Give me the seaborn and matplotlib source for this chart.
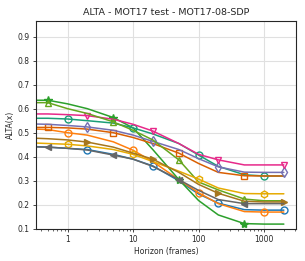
import numpy as np
import seaborn as sns
import matplotlib.pyplot as plt
from matplotlib.ticker import FixedLocator, FuncFormatter

# horizons (frames); first value is where the curves meet the left axis edge
horizons = [0.33, 0.5, 1, 2, 5, 10, 20, 50, 100, 200, 500, 1000, 2000]

# ALTA values, one list per tracker curve
alta_blue = [0.442, 0.44, 0.435, 0.43, 0.41, 0.39, 0.362, 0.30, 0.245, 0.207, 0.18, 0.178, 0.178]
alta_orange = [0.515, 0.513, 0.50, 0.49, 0.462, 0.427, 0.38, 0.305, 0.25, 0.205, 0.172, 0.17, 0.17]
alta_green = [0.635, 0.635, 0.62, 0.60, 0.563, 0.52, 0.43, 0.305, 0.218, 0.158, 0.122, 0.12, 0.12]
alta_teal = [0.56, 0.56, 0.557, 0.55, 0.54, 0.52, 0.495, 0.455, 0.407, 0.36, 0.325, 0.32, 0.32]
alta_orangered = [0.522, 0.522, 0.52, 0.515, 0.50, 0.48, 0.455, 0.415, 0.372, 0.335, 0.321, 0.32, 0.32]
alta_purple = [0.536, 0.535, 0.53, 0.524, 0.51, 0.49, 0.464, 0.43, 0.392, 0.358, 0.336, 0.335, 0.335]
alta_pink = [0.578, 0.578, 0.575, 0.571, 0.556, 0.535, 0.507, 0.455, 0.41, 0.387, 0.366, 0.366, 0.366]
alta_lightgreen = [0.625, 0.625, 0.60, 0.58, 0.545, 0.51, 0.47, 0.387, 0.295, 0.262, 0.224, 0.217, 0.217]
alta_gold = [0.457, 0.455, 0.452, 0.445, 0.43, 0.41, 0.38, 0.34, 0.307, 0.27, 0.247, 0.246, 0.246]
alta_brown = [0.477, 0.475, 0.47, 0.461, 0.44, 0.415, 0.39, 0.335, 0.285, 0.248, 0.215, 0.212, 0.212]
alta_gray = [0.441, 0.44, 0.435, 0.428, 0.407, 0.39, 0.36, 0.305, 0.26, 0.222, 0.205, 0.205, 0.205]

series = [
    (alta_blue, "#1f77b4", "o", 3),
    (alta_orange, "#ff7f0e", "o", 2),
    (alta_green, "#2ca02c", "*", 1),
    (alta_teal, "#1b9e77", "o", 2),
    (alta_orangered, "#d95f02", "s", 1),
    (alta_purple, "#7570b3", "d", 3),
    (alta_pink, "#e7298a", "v", 3),
    (alta_lightgreen, "#66a61e", "^", 1),
    (alta_gold, "#e6ab02", "h", 2),
    (alta_brown, "#a6761d", ">", 3),
    (alta_gray, "#666666", "<", 1),
]

sns.set_style("whitegrid", {"axes.edgecolor": "0.15", "grid.color": "0.88",
                            "xtick.bottom": True, "ytick.left": True})
plt.rcParams['font.family'] = ['DejaVu Sans']

fig = plt.figure(figsize=(3.05, 2.61), dpi=100)
ax = fig.add_axes([0.118, 0.123, 0.852, 0.797])

for vals, col, mk, start in series:
    filled = mk in ("*", "<", ">")
    sns.lineplot(x=horizons, y=vals, color=col, marker=mk, markevery=slice(start, None, 3),
                 markersize=5 if mk != "*" else 6, markeredgewidth=1.0,
                 markerfacecolor=col if filled else "none", markeredgecolor=col,
                 linewidth=1.1, ax=ax)

ax.set_xscale("log")
ax.set_xlim(0.33, 3050)
ax.set_ylim(0.1, 0.965)
ax.xaxis.set_major_locator(FixedLocator([1, 10, 100, 1000]))
ax.xaxis.set_major_formatter(FuncFormatter(lambda v, p: f"{v:g}"))
ax.set_yticks([0.1, 0.2, 0.3, 0.4, 0.5, 0.6, 0.7, 0.8, 0.9])
ax.tick_params(axis="both", labelsize=5.5, length=2.5, width=0.6, pad=2)
ax.tick_params(axis="x", which="minor", length=1.5, width=0.5)
ax.grid(True, which="major", color="0.88", linewidth=0.8)
for s in ax.spines.values():
    s.set_linewidth(0.8)

ax.set_title("ALTA - MOT17 test - MOT17-08-SDP", fontsize=6.8, pad=4)
ax.set_xlabel("Horizon (frames)", fontsize=5.5, labelpad=2)
ax.set_ylabel("ALTA(x)", fontsize=5.5, labelpad=2)

fig.savefig("out.png", dpi=100)
